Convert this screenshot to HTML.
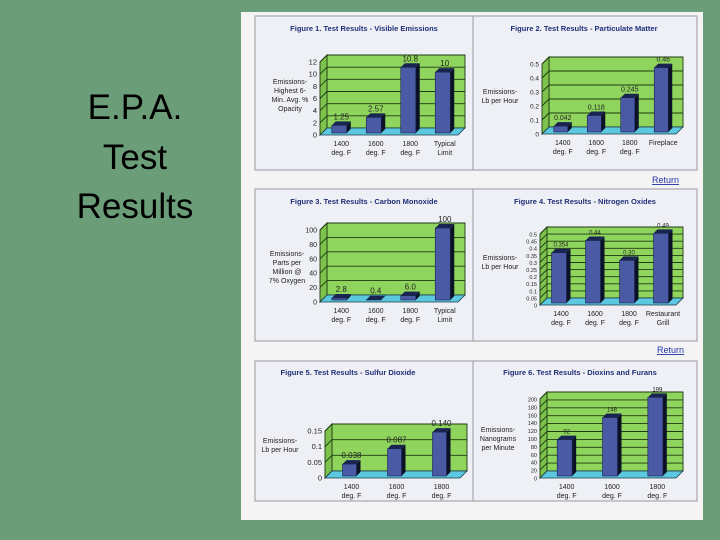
<!DOCTYPE html>
<html><head><meta charset="utf-8"><style>
body{margin:0;width:720px;height:540px;overflow:hidden;background:#6b9e78;}
svg{display:block;font-family:"Liberation Sans",sans-serif;}
</style></head><body>
<svg id="s" width="720" height="540" viewBox="0 0 720 540">
<rect x="0" y="0" width="720" height="540" fill="#6b9e78"/>
<g font-size="35" fill="#000" text-anchor="middle">
<text x="135" y="119">E.P.A.</text><text x="135" y="169">Test</text><text x="135" y="218">Results</text></g>
<rect x="241" y="12" width="462" height="508" fill="#f4f4f4"/>
<g id="boxes" fill="#eef0f5" stroke="#9a9aa2" stroke-width="1">
<rect x="255" y="16" width="218" height="154"/>
<rect x="473" y="16" width="224" height="154"/>
<rect x="255" y="189" width="218" height="152"/>
<rect x="473" y="189" width="224" height="152"/>
<rect x="255" y="361" width="218" height="140"/>
<rect x="473" y="361" width="224" height="140"/>
</g>
<text x="652" y="183" font-size="9" fill="#2233aa" text-decoration="underline">Return</text>
<text x="657" y="353" font-size="9" fill="#2233aa" text-decoration="underline">Return</text>
</svg>
<script>
const fig1Cats=[["1400","deg. F"],["1600","deg. F"],["1800","deg. F"],["Typical","Limit"]];
const fig1Vals=[1.25,2.57,10.8,10];
const fig1Labels=["1.25","2.57","10.8","10"];
const fig1Ticks=[0,2,4,6,8,10,12];
const fig2Cats=[["1400","deg. F"],["1600","deg. F"],["1800","deg. F"],["Fireplace",""]];
const fig2Vals=[0.042,0.118,0.245,0.46];
const fig2Labels=["0.042","0.118","0.245","0.46"];
const fig2Ticks=[0,0.1,0.2,0.3,0.4,0.5];
const fig3Cats=[["1400","deg. F"],["1600","deg. F"],["1800","deg. F"],["Typical","Limit"]];
const fig3Vals=[2.8,0.4,6.0,100];
const fig3Labels=["2.8","0.4","6.0","100"];
const fig3Ticks=[0,20,40,60,80,100];
const fig4Cats=[["1400","deg. F"],["1600","deg. F"],["1800","deg. F"],["Restaurant","Grill"]];
const fig4Vals=[0.354,0.44,0.30,0.49];
const fig4Labels=["0.354","0.44","0.30","0.49"];
const fig4Ticks=[0,0.05,0.1,0.15,0.2,0.25,0.3,0.35,0.4,0.45,0.5];
const fig5Cats=[["1400","deg. F"],["1600","deg. F"],["1800","deg. F"]];
const fig5Vals=[0.038,0.087,0.140];
const fig5Labels=["0.038","0.087","0.140"];
const fig5Ticks=[0,0.05,0.1,0.15];
const fig6Cats=[["1400","deg. F"],["1600","deg. F"],["1800","deg. F"]];
const fig6Vals=[92,148,199];
const fig6Labels=["92","148","199"];
const fig6Ticks=[0,20,40,60,80,100,120,140,160,180,200];

const NS="http://www.w3.org/2000/svg";
const svg=document.getElementById('s');
function mk(tag,attrs,parent,text){const e=document.createElementNS(NS,tag);for(const k in attrs)e.setAttribute(k,attrs[k]);if(text!==undefined)e.textContent=text;parent.appendChild(e);return e;}
function chart(id,c){
  const g=mk('g',{},svg);
  
  
  const d=7, max=c.ticks[c.ticks.length-1];
  const k=(c.yF-d-c.top)/max;
  const y=v=>c.yF-d-v*k;
  const t=mk('text',{x:c.tx,y:c.ty,'font-size':7.5,'font-weight':'bold',fill:'#1f2f78','text-anchor':'middle'},g,c.title);
  
  
  const wall=mk('polygon',{points:`${c.x0+d},${c.top} ${c.x1+d},${c.top} ${c.x1+d},${c.yF-d} ${c.x0+d},${c.yF-d}`,fill:'#8fd45c',stroke:'#1e3a12','stroke-width':0.9},g);
  
  
  const side=mk('polygon',{points:`${c.x0},${c.yF} ${c.x0+d},${c.yF-d} ${c.x0+d},${c.top} ${c.x0},${c.top+d}`,fill:'#7cc24c',stroke:'#1e3a12','stroke-width':0.9},g);
  
  
  const floor=mk('polygon',{points:`${c.x0},${c.yF} ${c.x1},${c.yF} ${c.x1+d},${c.yF-d} ${c.x0+d},${c.yF-d}`,fill:'#5cc8e0',stroke:'#1a3a4a','stroke-width':0.8},g);
  
  
  c.ticks.forEach((v,i)=>{
    const yy=y(v);
    if(i>0){
      const gl=mk('polyline',{points:`${c.x0},${yy+d} ${c.x0+d},${yy} ${c.x1+d},${yy}`,fill:'none',stroke:'#1e3a12','stroke-width':0.9},g);
      
      
    }
    const tl=mk('text',{x:c.x0-3,y:yy+d+2.5,'font-size':c.tfs,fill:'#222','text-anchor':'end'},g,c.tickLabels?c.tickLabels[i]:String(v));
    
    
  });
  const n=c.vals.length, step=(c.x1-c.x0)/n, w=c.bw;
  c.vals.forEach((v,i)=>{
    const cx=c.x0+step*(i+0.5)+2, yb=c.yF-2, h=v*k, yt=yb-h, bd=4;
    const bar=mk('g',{},g);
    
    
    mk('polygon',{points:`${cx+w/2},${yb} ${cx+w/2+bd},${yb-bd} ${cx+w/2+bd},${yt-bd} ${cx+w/2},${yt}`,fill:'#0c1226'},bar);
    mk('polygon',{points:`${cx-w/2},${yt} ${cx-w/2+bd},${yt-bd} ${cx+w/2+bd},${yt-bd} ${cx+w/2},${yt}`,fill:'#1a2450'},bar);
    mk('rect',{x:cx-w/2,y:yt,width:w,height:h,fill:'#4a5aa4',stroke:'#1a2450','stroke-width':0.6},bar);
    const vl=mk('text',{x:cx+2,y:yt-6,'font-size':c.vfs,fill:'#222','text-anchor':'middle'},g,c.labels[i]);
    
    
    c.cats[i].forEach((s,j)=>{
      const cl=mk('text',{x:cx+2,y:c.yF+11+j*9,'font-size':7,fill:'#222','text-anchor':'middle'},g,s);
      
      
    });
  });
  const yl=mk('text',{'font-size':7,fill:'#222','text-anchor':'middle'},g);
  
  
  c.ylab.forEach((s,j)=>mk('tspan',{x:c.lx,y:c.ly+j*9},yl,s));
}
chart('fig1',{title:'Figure 1. Test Results - Visible Emissions',tx:364,ty:31,x0:320,x1:458,yF:135,top:55,ticks:fig1Ticks,vals:fig1Vals,labels:fig1Labels,cats:fig1Cats,bw:15,tfs:7.5,vfs:8,ylab:['Emissions-','Highest 6-','Min. Avg. %','Opacity'],lx:290,ly:84});
chart('fig2',{title:'Figure 2. Test Results - Particulate Matter',tx:584,ty:31,x0:542,x1:676,yF:134,top:57,ticks:fig2Ticks,vals:fig2Vals,labels:fig2Labels,cats:fig2Cats,bw:14,tfs:6.5,vfs:7,ylab:['Emissions-','Lb per Hour'],lx:500,ly:94});
chart('fig3',{title:'Figure 3. Test Results - Carbon Monoxide',tx:364,ty:204,x0:320,x1:458,yF:302,top:223,ticks:fig3Ticks,vals:fig3Vals,labels:fig3Labels,cats:fig3Cats,bw:15,tfs:7,vfs:8,ylab:['Emissions-','Parts per','Million @','7% Oxygen'],lx:287,ly:256});
chart('fig4',{title:'Figure 4. Test Results - Nitrogen Oxides',tx:585,ty:204,x0:540,x1:676,yF:305,top:227,ticks:fig4Ticks,tickLabels:['0','0.05','0.1','0.15','0.2','0.25','0.3','0.35','0.4','0.45','0.5'],vals:fig4Vals,labels:fig4Labels,cats:fig4Cats,bw:15,tfs:5.5,vfs:6,ylab:['Emissions-','Lb per Hour'],lx:500,ly:260});
chart('fig5',{title:'Figure 5. Test Results - Sulfur Dioxide',tx:348,ty:375,x0:325,x1:460,yF:478,top:424,ticks:fig5Ticks,tickLabels:['0','0.05','0.1','0.15'],vals:fig5Vals,labels:fig5Labels,cats:fig5Cats,bw:14,tfs:7.5,vfs:8,ylab:['Emissions-','Lb per Hour'],lx:280,ly:443});
chart('fig6',{title:'Figure 6. Test Results - Dioxins and Furans',tx:580,ty:375,x0:540,x1:676,yF:478,top:392,ticks:fig6Ticks,vals:fig6Vals,labels:fig6Labels,cats:fig6Cats,bw:15,tfs:5.5,vfs:6,ylab:['Emissions-','Nanograms','per Minute'],lx:498,ly:432});
</script>
</body></html>
